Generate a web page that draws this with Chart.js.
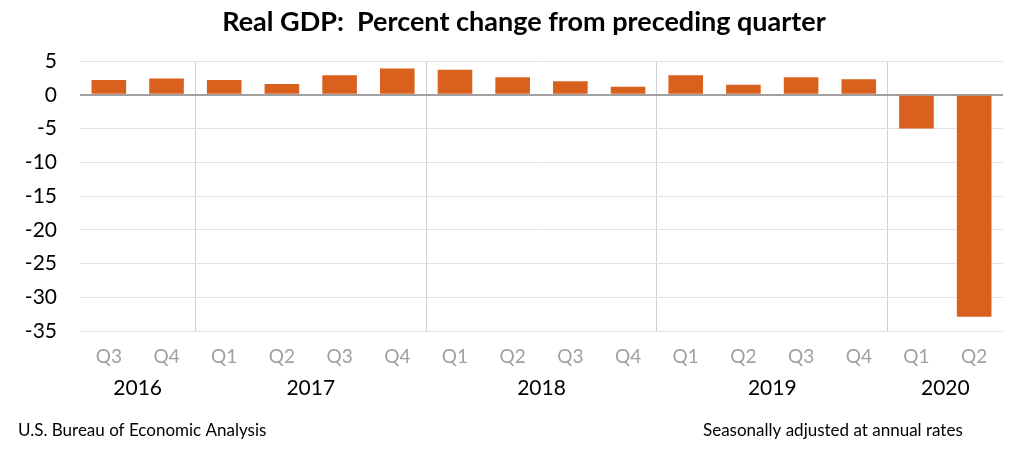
<!DOCTYPE html>
<html>
<head>
<meta charset="utf-8">
<script src="https://cdn.jsdelivr.net/npm/chart.js@4.4.0/dist/chart.umd.min.js"></script>
<style>
  html, body { margin: 0; padding: 0; background: #fff; }
  #wrap { width: 1024px; height: 453px; position: relative; }
</style>
</head>
<body>
<div id="wrap"><canvas id="gdpChart"></canvas></div>
<script>
const quarters = ['Q3', 'Q4', 'Q1', 'Q2', 'Q3', 'Q4', 'Q1', 'Q2', 'Q3', 'Q4', 'Q1', 'Q2', 'Q3', 'Q4', 'Q1', 'Q2'];
const years = ['2016', '2017', '2018', '2019', '2020'];
const quartersPerYear = [2, 4, 4, 4, 2];
const gdpChange = [2.2, 2.4, 2.2, 1.6, 2.9, 3.9, 3.7, 2.6, 2.0, 1.2, 2.9, 1.5, 2.6, 2.3, -5.0, -32.9];

const titleText = 'Real GDP:  Percent change from preceding quarter';
const sourceText = 'U.S. Bureau of Economic Analysis';
const noteText = 'Seasonally adjusted at annual rates';

const FONT = 'Lato, "Open Sans", sans-serif';

// index of grid lines between years
const yearBreaks = [];
let acc = 0;
quartersPerYear.slice(0, -1).forEach(n => { acc += n; yearBreaks.push(acc); });

const extrasPlugin = {
    id: 'extras',
    afterDraw(chart) {
        const ctx = chart.ctx;
        const x = chart.scales.x;
        ctx.save();
        ctx.fillStyle = '#000';
        ctx.textBaseline = 'middle';

        // title
        ctx.font = 'bold 27px ' + FONT;
        ctx.textAlign = 'center';
        ctx.fillText(titleText, 524, 22);

        // year labels centred under their quarters
        ctx.font = '21px ' + FONT;
        let start = 0;
        years.forEach((yr, i) => {
            const end = start + quartersPerYear[i] - 1;
            const cx = (x.getPixelForValue(start) + x.getPixelForValue(end)) / 2;
            ctx.fillText(yr, cx, 388);
            start = end + 1;
        });

        // footer notes
        ctx.font = '17px ' + FONT;
        ctx.textAlign = 'left';
        ctx.fillText(sourceText, 18, 431);
        ctx.fillText(noteText, 703, 431);
        ctx.restore();
    }
};

const ctx = document.getElementById('gdpChart').getContext('2d');
new Chart(ctx, {
    type: 'bar',
    data: {
        labels: quarters,
        datasets: [{
            data: gdpChange,
            backgroundColor: '#DA611D',
            borderWidth: 0,
            barPercentage: 0.6,
            categoryPercentage: 1.0
        }]
    },
    options: {
        responsive: true,
        maintainAspectRatio: false,
        animation: false,
        layout: { padding: { top: 61, right: 21, left: 0, bottom: 0 } },
        plugins: {
            legend: { display: false },
            tooltip: { enabled: false }
        },
        scales: {
            x: {
                afterFit(scale) { scale.height = 122; },
                border: { display: false },
                grid: {
                    offset: true,
                    drawTicks: false,
                    color: c => yearBreaks.includes(c.index) ? '#d0d0d0' : 'rgba(0,0,0,0)'
                },
                ticks: {
                    color: '#a0a0a0',
                    padding: 14,
                    font: { family: FONT, size: 19 }
                }
            },
            y: {
                min: -35,
                max: 5,
                afterFit(scale) { scale.width = 80; },
                border: { display: false },
                grid: {
                    drawTicks: false,
                    color: c => c.tick.value === 0 ? '#a0a0a0' : '#e2e2e2',
                    lineWidth: c => c.tick.value === 0 ? 2 : 1
                },
                ticks: {
                    stepSize: 5,
                    color: '#000',
                    padding: 23,
                    font: { family: FONT, size: 21 }
                }
            }
        }
    },
    plugins: [extrasPlugin]
});
</script>
</body>
</html>
